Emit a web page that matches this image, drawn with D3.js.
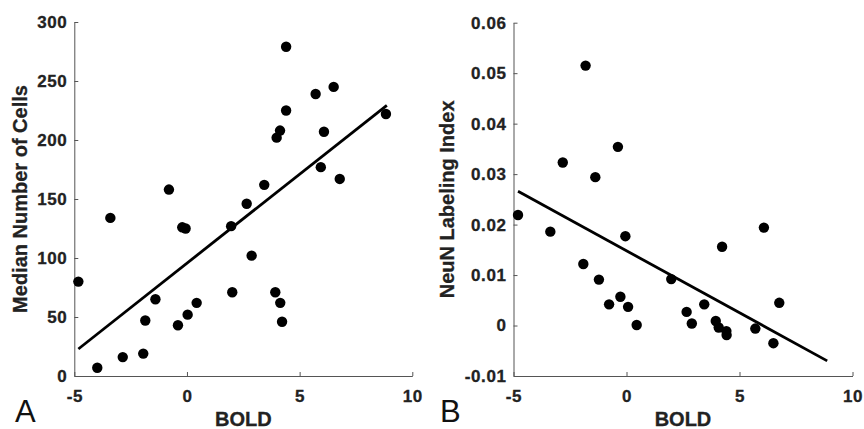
<!DOCTYPE html>
<html>
<head>
<meta charset="utf-8">
<script src="https://cdn.jsdelivr.net/npm/d3@7"></script>
<style>
  body { margin: 0; background: #fff; }
  svg { display: block; font-family: "Liberation Sans", Arial, Helvetica, sans-serif; }
</style>
</head>
<body>
<svg width="864" height="429"></svg>
<script>
// panel A: BOLD vs median number of cells
var boldA = [4.40, 5.71, 6.51, 4.40, 4.13, 3.98, 6.08, 8.83, 5.94, 6.78, 3.43, 2.65, -0.80, -3.40,
             -0.21, -0.06, 1.96, 2.87, -4.82, -1.40, 0.43, 2.01, 3.92, 4.14, 4.22, -1.85, 0.03, -0.40,
             -1.94, -2.85, -3.98]
var cellsA = [279, 239, 245, 225, 208, 202, 207, 222, 177, 167, 162, 146, 158, 134,
              126, 125, 127, 102, 80, 65, 62, 71, 71, 62, 46, 47, 52, 43,
              19, 16, 7]
var fitAx = [-4.82, 8.87]
var fitAy = [22.9, 229.4]

// panel B: BOLD vs NeuN labeling index
var boldB = [-1.81, -2.82, -0.38, -1.38, -4.80, -3.37, -0.05, 6.08, 4.23, -1.91, -1.22, 1.98, -0.27,
             -0.77, 0.07, 3.44, 6.76, 2.66, 0.45, 2.89, 3.95, 4.08, 4.42, 4.43, 5.70, 6.50]
var neunB = [0.0515, 0.0323, 0.0354, 0.0294, 0.0219, 0.0186, 0.0177, 0.0194, 0.0156, 0.0122, 0.0091, 0.0092, 0.0057,
             0.0042, 0.0037, 0.0042, 0.0045, 0.0027, 0.0001, 0.0004, 0.0009, -0.0004, -0.0011, -0.0019, -0.0006, -0.0035]
var fitBx = [-4.80, 8.88]
var fitBy = [0.0266, -0.0070]

var xTicks = [-5, 0, 5, 10]
var xTickLabels = ['-5', '0', '5', '10']
var yTicksA = [0, 50, 100, 150, 200, 250, 300]
var yTickLabelsA = ['0', '50', '100', '150', '200', '250', '300']
var yTicksB = [-0.01, 0, 0.01, 0.02, 0.03, 0.04, 0.05, 0.06]
var yTickLabelsB = ['-0.01', '0', '0.01', '0.02', '0.03', '0.04', '0.05', '0.06']

var svg = d3.select('svg')
var bottom = 376

function panel(opt) {
  var x = d3.scaleLinear().domain([-5, 10]).range([opt.left, opt.right])
  var y = d3.scaleLinear().domain(opt.yDomain).range([bottom, opt.top])
  var g = svg.append('g')

  g.append('g')
    .attr('transform', 'translate(0,' + bottom + ')')
    .call(d3.axisBottom(x).tickValues(xTicks)
      .tickFormat((d, i) => xTickLabels[i])
      .tickSizeInner(-4).tickSizeOuter(0).tickPadding(14))
  g.append('g')
    .attr('transform', 'translate(' + opt.left + ',0)')
    .call(d3.axisLeft(y).tickValues(opt.yTicks)
      .tickFormat((d, i) => opt.yLabels[i])
      .tickSizeInner(-4).tickSizeOuter(0).tickPadding(7))

  g.selectAll('.domain').attr('stroke', '#555').attr('stroke-width', 1)
  g.selectAll('.tick line').attr('stroke', '#555')
  g.selectAll('.tick text')
    .attr('fill', '#222')
    .attr('stroke', '#222')
    .attr('stroke-width', 0.3)
    .style('font-size', '17px')
    .style('font-weight', 'bold')
    .style('letter-spacing', '0.6px')

  var pts = opt.xs.map((d, i) => [d, opt.ys[i]])
  g.selectAll('circle')
    .data(pts)
    .enter()
    .append('circle')
      .attr('cx', d => x(d[0]))
      .attr('cy', d => y(d[1]))
      .attr('r', 5.2)
      .attr('fill', '#000')

  g.append('line')
    .attr('x1', x(opt.fitX[0])).attr('y1', y(opt.fitY[0]))
    .attr('x2', x(opt.fitX[1])).attr('y2', y(opt.fitY[1]))
    .attr('stroke', '#000')
    .attr('stroke-width', 2.8)

  g.append('text')
    .attr('x', (opt.left + opt.right) / 2)
    .attr('y', 426)
    .style('text-anchor', 'middle')
    .style('font-size', '20px')
    .style('font-weight', 'bold')
    .attr('fill', '#222')
    .attr('stroke', '#222')
    .attr('stroke-width', 0.3)
    .text('BOLD')

  g.append('text')
    .attr('transform', 'translate(' + opt.titleX + ',' + (bottom + opt.top) / 2 + ') rotate(-90)')
    .style('text-anchor', 'middle')
    .style('font-size', '20px')
    .style('font-weight', 'bold')
    .attr('fill', '#222')
    .attr('stroke', '#222')
    .attr('stroke-width', 0.3)
    .text(opt.title)

  g.append('text')
    .attr('x', opt.letterX)
    .attr('y', 422)
    .style('font-size', '31px')
    .attr('fill', '#111')
    .text(opt.letter)
}

panel({left: 74.3, right: 412.3, top: 22, yDomain: [0, 300], yTicks: yTicksA, yLabels: yTickLabelsA,
       xs: boldA, ys: cellsA, fitX: fitAx, fitY: fitAy,
       title: 'Median Number of Cells', titleX: 27, letter: 'A', letterX: 15})

panel({left: 513.5, right: 852.5, top: 22.7, yDomain: [-0.01, 0.06], yTicks: yTicksB, yLabels: yTickLabelsB,
       xs: boldB, ys: neunB, fitX: fitBx, fitY: fitBy,
       title: 'NeuN Labeling Index', titleX: 454, letter: 'B', letterX: 440})
</script>
</body>
</html>
